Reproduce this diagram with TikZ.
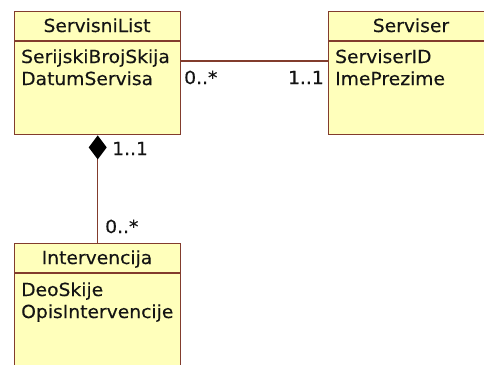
\documentclass[tikz,border=0pt]{standalone}
\usepackage{fontspec}
\setmainfont[FakeStretch=1.04,FakeBold=0.3]{DejaVu Sans}
\usetikzlibrary{arrows.meta}
\definecolor{umlfill}{RGB}{255,255,187}
\definecolor{umlline}{RGB}{130,60,45}
\definecolor{umltext}{RGB}{20,20,20}
\begin{document}
\begin{tikzpicture}[x=1pt,y=-1pt,
  box/.style={draw=umlline, fill=umlfill, line width=1.4pt, rectangle,
    minimum width=166pt, minimum height=123pt, anchor=north west, inner sep=0pt},
  divider/.style={draw=umlline, line width=1.4pt},
  txt/.style={font=\fontsize{18}{22}\selectfont, inner sep=0pt, text=umltext},
  conn/.style={draw=umlline, line width=1.1pt}]
\clip (0,0) rectangle (484,364);
\fill[white] (0,0) rectangle (484,364);
% boxes
\node[box] (sl) at (14,11) {};
\node[box] (sv) at (328,11) {};
\node[box] (iv) at (14,243) {};
\draw[divider] ([yshift=-30pt]sl.north west) -- ([yshift=-30pt]sl.north east);
\draw[divider] ([yshift=-30pt]sv.north west) -- ([yshift=-30pt]sv.north east);
\draw[divider] ([yshift=-30pt]iv.north west) -- ([yshift=-30pt]iv.north east);
% texts
\node[txt, anchor=base] (slh) at (97,32) {ServisniList};
\node[txt, anchor=base west] (sla) at (21,63) {SerijskiBrojSkija};
\node[txt, anchor=base west] (slb) at (21,85) {DatumServisa};
\node[txt, anchor=base] (svh) at (411,32) {Serviser};
\node[txt, anchor=base west] (sva) at (335,63) {ServiserID};
\node[txt, anchor=base west] (svb) at (335,85) {ImePrezime};
\node[txt, anchor=base] (ivh) at (97,264) {Intervencija};
\node[txt, anchor=base west] (iva) at (21,296) {DeoSkije};
\node[txt, anchor=base west] (ivb) at (21,318) {OpisIntervencije};
% connectors
\draw[conn] ([yshift=-50pt]sl.north east) -- ([yshift=-50pt]sv.north west);
\draw[conn, {Diamond[length=24pt,width=18pt,fill=black,line width=0pt]}-] (sl.south) -- (iv.north);
% multiplicities
\node[txt, anchor=base west] (m1) at (184,84) {0..*};
\node[txt, anchor=base east] (m2) at (324,84) {1..1};
\node[txt, anchor=base west] (m3) at (112,155) {1..1};
\node[txt, anchor=base west] (m4) at (105,233) {0..*};
\end{tikzpicture}
\end{document}
